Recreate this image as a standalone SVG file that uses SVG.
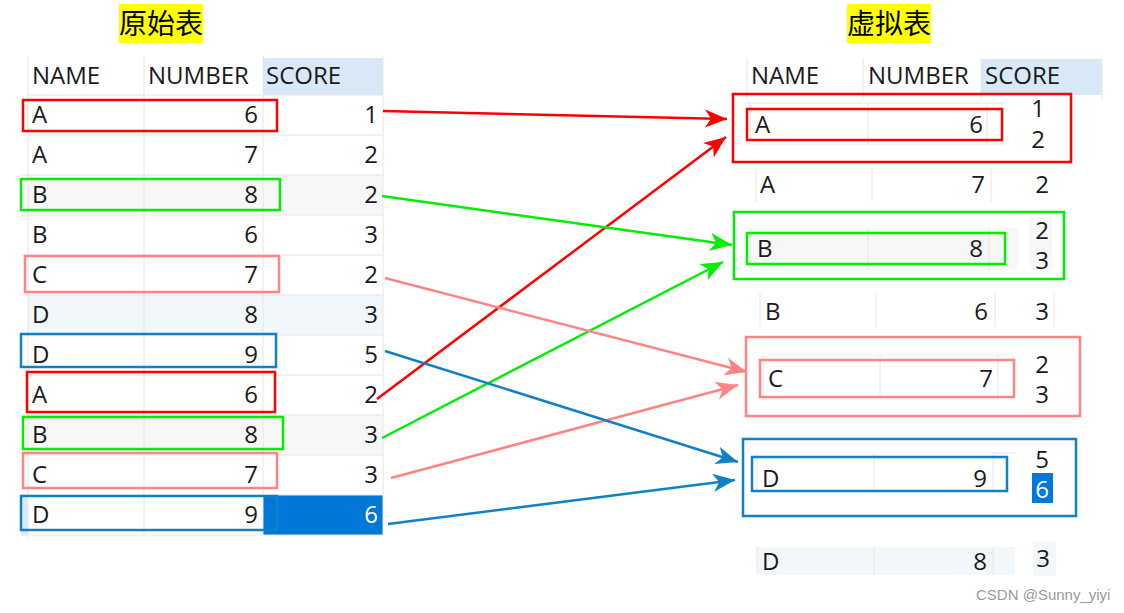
<svg xmlns="http://www.w3.org/2000/svg" width="1124" height="613" viewBox="0 0 1124 613">
<style>
.t{font-family:"Open Sans","Noto Sans","Liberation Sans",sans-serif;font-size:24px;fill:#1a1a1a}
.r{text-anchor:end}
.m{text-anchor:middle}
.w{fill:#ffffff}
.ttl{font-family:"Noto Sans CJK SC","Noto Sans CJK JP",sans-serif;font-size:28px;fill:#000}
.g{stroke:#e6e6e6;stroke-width:1;fill:none}
.box{fill:none;stroke-width:2.5}
.red{stroke:#ff0000}
.grn{stroke:#00ee00}
.pnk{stroke:#ff8585}
.blu{stroke:#1180c6}
.wm{font-family:"Liberation Sans",Arial,sans-serif;font-size:15px;fill:#9a9a9a}
</style>
<defs>
<marker id="aR" markerUnits="userSpaceOnUse" markerWidth="24" markerHeight="20" refX="22" refY="9" orient="auto"><path d="M0,0 L22,9 L0,18 L6,9 z" fill="#ff0000"/></marker>
<marker id="aG" markerUnits="userSpaceOnUse" markerWidth="24" markerHeight="20" refX="22" refY="9" orient="auto"><path d="M0,0 L22,9 L0,18 L6,9 z" fill="#00ee00"/></marker>
<marker id="aP" markerUnits="userSpaceOnUse" markerWidth="24" markerHeight="20" refX="22" refY="9" orient="auto"><path d="M0,0 L22,9 L0,18 L6,9 z" fill="#ff8585"/></marker>
<marker id="aB" markerUnits="userSpaceOnUse" markerWidth="24" markerHeight="20" refX="22" refY="9" orient="auto"><path d="M0,0 L22,9 L0,18 L6,9 z" fill="#1180c6"/></marker>
</defs>
<rect width="1124" height="613" fill="#ffffff"/>

<g id="title-left">
<rect x="119" y="4" width="84" height="39" fill="#ffff00"/>
<text class="ttl" x="161" y="34" text-anchor="middle">原始表</text>
</g>
<g id="title-right">
<rect x="847" y="4" width="84" height="39" fill="#ffff00"/>
<text class="ttl" x="889" y="34" text-anchor="middle">虚拟表</text>
</g>

<g id="left-table">
<rect x="263" y="58" width="120" height="37" fill="#d9e8f6"/>
<rect x="28" y="175" width="355" height="40" fill="#f7f7f7"/>
<rect x="28" y="295" width="355" height="40" fill="#f2f7fc"/>
<rect x="28" y="415" width="355" height="40" fill="#f7f7f7"/>
<rect x="21" y="495" width="7" height="40" fill="#dce9f6"/>
<rect x="263" y="495" width="120" height="40" fill="#0078d7"/>
<path class="g" d="M28,56V540 M144,56V535 M263,56V535 M383,56V535 M28,95H383 M21,135H383 M21,175H383 M21,215H383 M21,255H383 M21,295H383 M21,335H383 M21,375H383 M21,415H383 M21,455H383 M21,495H383 M21,535H383"/>
<text class="t" x="32" y="84">NAME</text>
<text class="t" x="148" y="84">NUMBER</text>
<text class="t" x="266" y="84">SCORE</text>
<g>
<text class="t" x="32" y="123">A</text><text class="t r" x="258" y="123">6</text><text class="t r" x="378" y="123">1</text>
<text class="t" x="32" y="163">A</text><text class="t r" x="258" y="163">7</text><text class="t r" x="378" y="163">2</text>
<text class="t" x="32" y="203">B</text><text class="t r" x="258" y="203">8</text><text class="t r" x="378" y="203">2</text>
<text class="t" x="32" y="243">B</text><text class="t r" x="258" y="243">6</text><text class="t r" x="378" y="243">3</text>
<text class="t" x="32" y="283">C</text><text class="t r" x="258" y="283">7</text><text class="t r" x="378" y="283">2</text>
<text class="t" x="32" y="323">D</text><text class="t r" x="258" y="323">8</text><text class="t r" x="378" y="323">3</text>
<text class="t" x="32" y="363">D</text><text class="t r" x="258" y="363">9</text><text class="t r" x="378" y="363">5</text>
<text class="t" x="32" y="403">A</text><text class="t r" x="258" y="403">6</text><text class="t r" x="378" y="403">2</text>
<text class="t" x="32" y="443">B</text><text class="t r" x="258" y="443">8</text><text class="t r" x="378" y="443">3</text>
<text class="t" x="32" y="483">C</text><text class="t r" x="258" y="483">7</text><text class="t r" x="378" y="483">3</text>
<text class="t" x="32" y="523">D</text><text class="t r" x="258" y="523">9</text><text class="t r w" x="378" y="523">6</text>
</g>
</g>

<g id="left-boxes">
<rect class="box red" x="23" y="100" width="254" height="31"/>
<rect class="box grn" x="21" y="179" width="259" height="31"/>
<rect class="box pnk" x="25" y="256" width="254" height="36"/>
<rect class="box blu" x="21" y="334" width="255" height="33"/>
<rect class="box red" x="27" y="372" width="248" height="40"/>
<rect class="box grn" x="23" y="417" width="260" height="32"/>
<rect class="box pnk" x="23" y="453" width="254" height="35"/>
<rect class="box blu" x="21" y="496" width="256" height="34"/>
</g>

<g id="right-table">
<rect x="981" y="59" width="121" height="36" fill="#d9e8f6"/>
<path class="g" d="M747,58V100 M863,58V100 M981,58V100 M1102,58V100"/>
<text class="t" x="751" y="84">NAME</text>
<text class="t" x="868" y="84">NUMBER</text>
<text class="t" x="985" y="84">SCORE</text>
</g>

<g id="node-A6">
<path class="g" d="M745,103H1005 M745,144H1005 M750,103V144 M868,103V144 M987,103V144"/>
<rect class="box red" x="733" y="94" width="338" height="68"/>
<rect class="box red" x="747" y="109" width="255" height="31"/>
<text class="t" x="755" y="133">A</text><text class="t r" x="983" y="133">6</text>
<text class="t m" x="1038" y="117">1</text><text class="t m" x="1038" y="148">2</text>
</g>

<g id="node-A7">
<path class="g" d="M756,168V202 M872,168V202 M991,168V202"/>
<text class="t" x="760" y="193">A</text><text class="t r" x="985" y="193">7</text><text class="t m" x="1042" y="193">2</text>
</g>

<g id="node-B8">
<rect x="750" y="228" width="268" height="42" fill="#f7f7f7"/>
<rect x="1030" y="217" width="22" height="53" fill="#f7f7f7"/>
<path class="g" d="M750,228V270 M868,228V270 M989,228V270"/>
<rect class="box grn" x="734" y="212" width="330" height="67"/>
<rect class="box grn" x="747" y="233" width="258" height="31"/>
<text class="t" x="757" y="257">B</text><text class="t r" x="983" y="257">8</text>
<text class="t m" x="1042" y="239">2</text><text class="t m" x="1042" y="269">3</text>
</g>

<g id="node-B6">
<path class="g" d="M760,293V327 M876,293V327 M995,293V327 M1054,293V327"/>
<text class="t" x="765" y="320">B</text><text class="t r" x="988" y="320">6</text><text class="t m" x="1042" y="320">3</text>
</g>

<g id="node-C7">
<rect x="763" y="396" width="236" height="4" fill="#f2f7fc"/>
<path class="g" d="M763,355V398 M880,355V398 M998,355V398"/>
<rect class="box pnk" x="746" y="337" width="334" height="79"/>
<rect class="box pnk" x="760" y="360" width="254" height="37"/>
<text class="t" x="768" y="387">C</text><text class="t r" x="993" y="387">7</text>
<text class="t m" x="1042" y="373">2</text><text class="t m" x="1042" y="403">3</text>
</g>

<g id="node-D9">
<path class="g" d="M757,453V491 M874,453V491 M993,453V491 M993,453H1015"/>
<rect x="1032" y="473" width="21" height="30" fill="#0078d7"/>
<rect class="box blu" x="743" y="439" width="333" height="77"/>
<rect class="box blu" x="752" y="457" width="255" height="34"/>
<text class="t" x="762" y="487">D</text><text class="t r" x="987" y="487">9</text>
<text class="t m" x="1042" y="468">5</text><text class="t m w" x="1042" y="498">6</text>
</g>

<g id="node-D8">
<rect x="757" y="547" width="258" height="28" fill="#f2f7fc"/>
<rect x="1033" y="542" width="23" height="34" fill="#f2f7fc"/>
<path class="g" d="M757,547V575 M874,547V575 M993,547V575"/>
<text class="t" x="762" y="570">D</text><text class="t r" x="987" y="570">8</text><text class="t m" x="1043" y="567">3</text>
</g>

<g id="connectors" fill="none" stroke-width="2.5">
<line x1="383" y1="111" x2="727" y2="119" stroke="#ff0000" marker-end="url(#aR)"/>
<line x1="377" y1="399" x2="726" y2="137" stroke="#ff0000" marker-end="url(#aR)"/>
<line x1="382" y1="196" x2="732" y2="245" stroke="#00ee00" marker-end="url(#aG)"/>
<line x1="382" y1="438" x2="723" y2="262" stroke="#00ee00" marker-end="url(#aG)"/>
<line x1="385" y1="278" x2="747" y2="372" stroke="#ff8585" marker-end="url(#aP)"/>
<line x1="391" y1="478" x2="738" y2="385" stroke="#ff8585" marker-end="url(#aP)"/>
<line x1="385" y1="351" x2="738" y2="462" stroke="#1180c6" marker-end="url(#aB)"/>
<line x1="388" y1="524" x2="735" y2="480" stroke="#1180c6" marker-end="url(#aB)"/>
</g>

<text class="wm" x="976" y="600">CSDN @Sunny_yiyi</text>
</svg>
